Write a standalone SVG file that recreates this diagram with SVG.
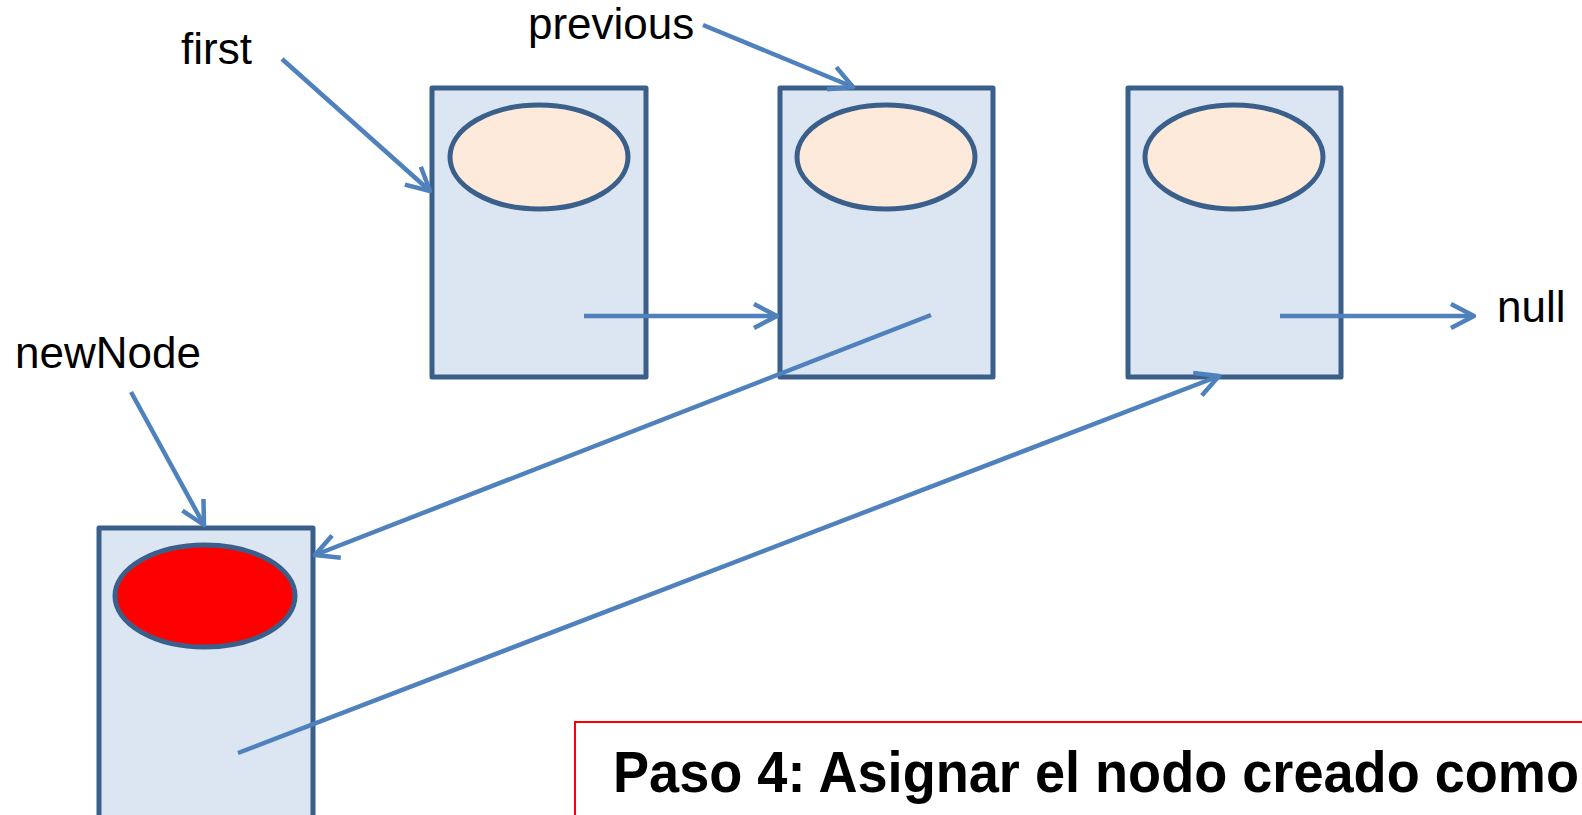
<svg xmlns="http://www.w3.org/2000/svg" width="1582" height="815" viewBox="0 0 1582 815">
<style>
.box{fill:#DCE6F2;stroke:#3A5F8B;stroke-width:5;stroke-linejoin:round}
.val{fill:#FDEADA;stroke:#3A5F8B;stroke-width:5}
.valnew{fill:#FF0000;stroke:#3A5F8B;stroke-width:5}
.lbl{font-family:"Liberation Sans",Arial,sans-serif;font-size:44px;fill:#000}
.con{stroke:#4F81BD;stroke-width:4.5;fill:none;marker-end:url(#arr)}
.title{font-family:"Liberation Sans",Arial,sans-serif;font-size:57px;font-weight:bold;fill:#000}
</style>
<defs>
<marker id="arr" markerUnits="userSpaceOnUse" viewBox="-28 -15 32 30" refX="0" refY="0" markerWidth="32" markerHeight="30" orient="auto" overflow="visible">
<path d="M-23,-12 L0,0 L-23,12" fill="none" stroke="#4F81BD" stroke-width="4.5" stroke-linejoin="round"/>
</marker>
</defs>
<rect x="0" y="0" width="1582" height="815" fill="#FFFFFF"/>

<g id="node1">
<rect class="box" x="432" y="88" width="214" height="289"/>
<ellipse class="val" cx="539" cy="157" rx="89" ry="52"/>
</g>
<g id="node2">
<rect class="box" x="780" y="88" width="213" height="289"/>
<ellipse class="val" cx="886" cy="157" rx="89" ry="52"/>
</g>
<g id="node3">
<rect class="box" x="1128" y="88" width="213" height="289"/>
<ellipse class="val" cx="1234" cy="157" rx="89" ry="52"/>
</g>
<g id="newNode">
<rect class="box" x="99" y="528" width="214" height="292"/>
<ellipse class="valnew" cx="205" cy="596" rx="90" ry="51"/>
</g>

<g id="label-first"><text class="lbl" x="181" y="64">first</text></g>
<g id="label-previous"><text class="lbl" x="528" y="39">previous</text></g>
<g id="label-newNode"><text class="lbl" x="15" y="368">newNode</text></g>
<g id="label-null"><text class="lbl" x="1497" y="322">null</text></g>

<g id="connectors">
<line class="con" x1="282" y1="59" x2="430" y2="191"/>
<line class="con" x1="703" y1="25" x2="853" y2="87"/>
<line class="con" x1="131" y1="392" x2="204" y2="525"/>
<line class="con" x1="584" y1="316" x2="777" y2="316"/>
<line class="con" x1="931" y1="315" x2="315" y2="555"/>
<line class="con" x1="238" y1="753" x2="1219" y2="376"/>
<line class="con" x1="1280" y1="316" x2="1474" y2="316"/>
</g>

<g id="note">
<rect x="575" y="722" width="1020" height="110" fill="#FFFFFF" stroke="#FF0000" stroke-width="2"/>
<text class="title" x="613" y="792" textLength="966" lengthAdjust="spacingAndGlyphs">Paso 4: Asignar el nodo creado como</text>
</g>
</svg>
